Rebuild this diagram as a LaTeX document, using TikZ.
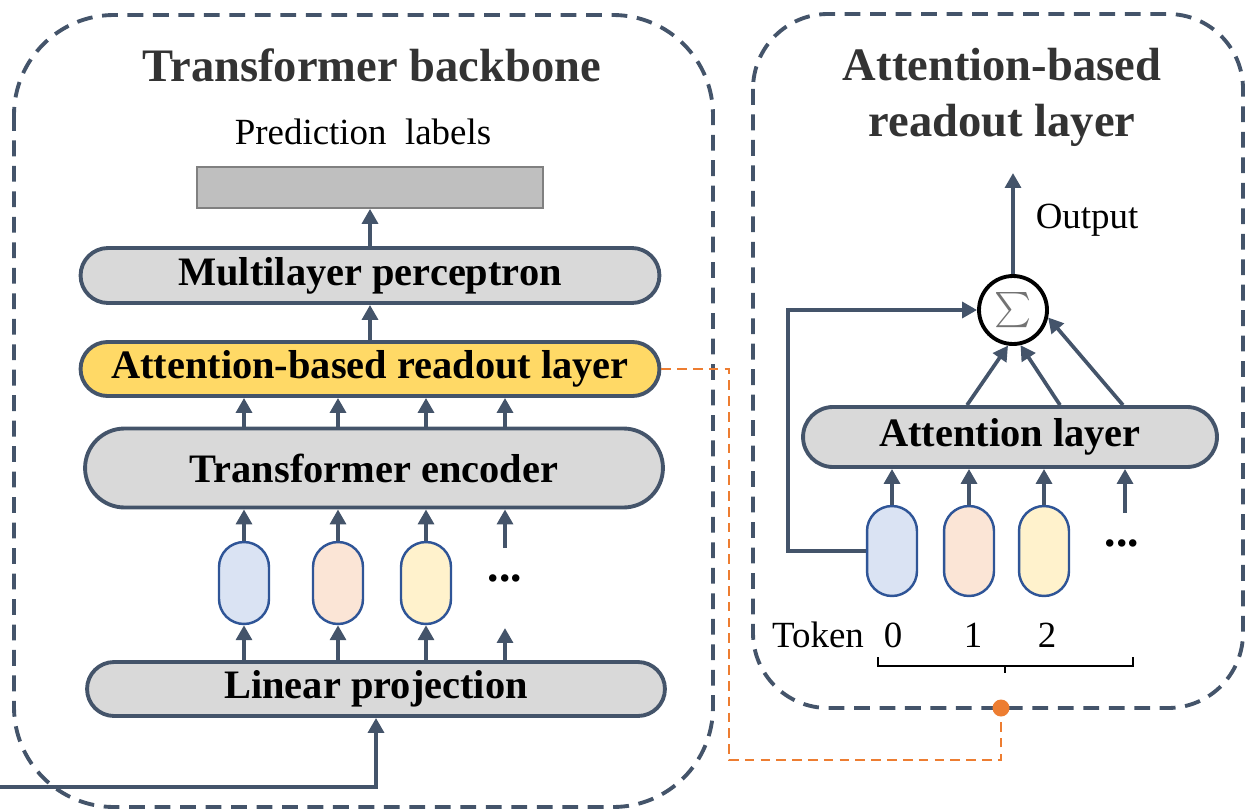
\documentclass[tikz,border=0pt]{standalone}
\usepackage{fontspec}
\setmainfont{Liberation Serif}
\usepackage{graphicx}
\usepackage{xcolor}
\usepackage{tikz}
\usetikzlibrary{arrows.meta,positioning}
\definecolor{slate}{RGB}{68,84,106}
\definecolor{boxgray}{RGB}{217,217,217}
\definecolor{readgold}{RGB}{255,217,102}
\definecolor{tokblue}{RGB}{218,227,243}
\definecolor{tokpeach}{RGB}{251,229,214}
\definecolor{tokyellow}{RGB}{255,242,204}
\definecolor{tokedge}{RGB}{47,85,151}
\definecolor{linkorange}{RGB}{237,125,49}
\definecolor{titlegray}{RGB}{51,51,51}

\begin{document}
\begin{tikzpicture}[x=0.02cm,y=-0.02cm,
title/.style={font=\fontsize{26.5}{32}\selectfont\bfseries,text=titlegray,align=center},
plain/.style={font=\fontsize{21}{25}\selectfont},
pill/.style={draw=slate,line width=2.2pt,fill=boxgray,minimum width=11.58cm,
font=\fontsize{23}{27}\selectfont\bfseries,inner sep=0pt},
token/.style={draw=tokedge,line width=1.4pt,minimum width=1cm,rounded corners=0.5cm,inner sep=0pt},
arrow/.style={-{Triangle[length=8.5pt,width=9pt]},line width=2.1pt,draw=slate},
frame/.style={draw=slate,line width=2.2pt,dash pattern=on 9pt off 5.5pt},
link/.style={draw=linkorange,line width=1.5pt,dash pattern=on 5.5pt off 3.5pt}]
\useasboundingbox (0,0) rectangle (1246,811);
% dashed frames
\draw[frame,rounded corners=2cm] (14,15) rectangle (713,807);
\draw[frame,rounded corners=1.5cm] (753,14) rectangle (1243,708);

% backbone
\node[title] (bbtitle) at (372,65) {Transformer backbone};
\node[plain] (predtxt) at (363,132) {Prediction\ \ labels};
\node[draw=black!50,fill=black!25,line width=1pt,minimum width=6.92cm,minimum height=0.82cm] (pred) at (370,187.5) {};
\node[pill,minimum height=1.1cm,rounded corners=0.55cm] (mlp) at (370,275.5) {Multilayer perceptron};
\node[pill,fill=readgold,minimum height=1.08cm,rounded corners=0.54cm] (readout) at (370,369) {Attention-based readout layer};
\node[pill,minimum width=11.56cm,minimum height=1.58cm,rounded corners=0.79cm] (enc) at (374,468) {Transformer encoder};
\node[token,fill=tokblue,minimum height=1.64cm] (tok1) at (244,583) {};
\node[token,fill=tokpeach,minimum height=1.64cm] (tok2) at (338,583) {};
\node[token,fill=tokyellow,minimum height=1.64cm] (tok3) at (426,583) {};
\node[font=\fontsize{26}{30}\selectfont\bfseries] (dots) at (505,578) {...};
\node[pill,minimum width=11.56cm,minimum height=1.08cm,rounded corners=0.54cm] (lin) at (376,689) {Linear projection};
\coordinate (dtop) at (505,548);
\coordinate (dbot) at (505,628);
\coordinate (src) at (0,787);

\draw[arrow] (mlp.north) -- (pred.south);
\draw[arrow] (readout.north) -- (mlp.south);
\foreach \t in {tok1,tok2,tok3,dots}
  \draw[arrow] (enc.north -| \t) -- (readout.south -| \t);
\foreach \t in {tok1,tok2,tok3} {
  \draw[arrow] (\t.north) -- (\t |- enc.south);
  \draw[arrow] (lin.north -| \t) -- (\t.south);
}
\draw[arrow] (dtop) -- (dtop |- enc.south);
\draw[arrow] (lin.north -| dbot) -- (dbot);
\draw[arrow] (src) -| (lin.south);

% readout layer detail
\node[title] (rotitle) at (1002,97) {Attention-based\\readout layer};
\node[circle,draw=black,line width=2.2pt,minimum size=1.36cm,inner sep=0pt,fill=white] (sum) at (1013,310)
  {\textcolor{black!55}{\scalebox{2}{$\sum$}}};
\coordinate (out) at (1013,173);
\node[plain] (outtxt) at (1087,220) {Output};
\node[pill,minimum width=8.28cm,minimum height=1.2cm,rounded corners=0.6cm] (attn) at (1010,437) {Attention layer};
\node[token,fill=tokblue,minimum height=1.8cm] (rtok1) at (892,551) {};
\node[token,fill=tokpeach,minimum height=1.8cm] (rtok2) at (969,551) {};
\node[token,fill=tokyellow,minimum height=1.8cm] (rtok3) at (1044,551) {};
\node[font=\fontsize{26}{30}\selectfont\bfseries] (rdots) at (1122,543) {...};
\coordinate (rdtop) at (1125,513);

\draw[arrow] (sum.north) -- (out);
\foreach \t in {rtok1,rtok2,rtok3}
  \draw[arrow] (\t.north) -- (\t |- attn.south);
\draw[arrow] (rdtop) -- (rdtop |- attn.south);
\draw[arrow] ([xshift=-0.86cm]attn.north) -- (sum.262);
\draw[arrow] ([xshift=1cm]attn.north) -- (sum.282);
\draw[arrow] ([xshift=2.26cm]attn.north) -- (sum.-12);
\draw[arrow] (rtok1.west) -- ++(-78,0) |- (sum.west);

% token indices
\node[plain] (tkname) at (818,635) {Token};
\node[plain] (tk0) at (893,635) {0};
\node[plain] (tk1) at (973,635) {1};
\node[plain] (tk2) at (1047,635) {2};
\draw[line width=1.4pt] (878,657) -- (878,666) -- (1133,666) -- (1133,657);
\draw[line width=1.4pt] (1005,666) -- (1005,673);

% link between the two panels
\coordinate (bend) at (729,760);
\node[circle,fill=linkorange,inner sep=0pt,minimum size=0.34cm] (odot) at (1001,708) {};
\draw[link] (readout.east) -| (bend) -| (odot);
\end{tikzpicture}
\end{document}
